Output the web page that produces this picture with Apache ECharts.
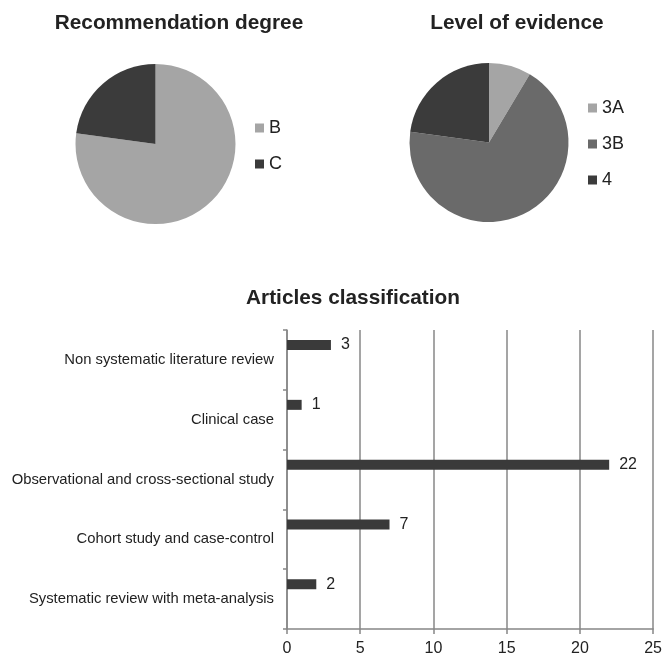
<!DOCTYPE html>
<html>
<head>
<meta charset="utf-8">
<script src="https://cdn.jsdelivr.net/npm/echarts@6/dist/echarts.min.js"></script>
<style>
  html, body { margin: 0; padding: 0; background: #fff; }
  #chart { width: 665px; height: 661px; }
</style>
</head>
<body>
<div id="chart"></div>
<script>
// Recommendation degree (pie 1)
const recommendationNames = ['B', 'C'];
const recommendationValues = [27, 8];

// Level of evidence (pie 2)
const evidenceNames = ['3A', '3B', '4'];
const evidenceValues = [3, 24, 8];

// Articles classification (horizontal bars, listed top to bottom)
const articleCategories = [
  'Non systematic literature review',
  'Clinical case',
  'Observational and cross-sectional study',
  'Cohort study and case-control',
  'Systematic review with meta-analysis'
];
const articleCounts = [3, 1, 22, 7, 2];

// Value axis ticks
const xMin = 0, xMax = 25, xStep = 5;

const FONT = 'Liberation Sans, Arial, sans-serif';
const TEXT = '#222222';
const AXIS = '#878787';

const recColors = ['#a5a5a5', '#3b3b3b'];
const evColors = ['#a5a5a5', '#6a6a6a', '#3b3b3b'];

const chart = echarts.init(document.getElementById('chart'), null, { renderer: 'canvas' });

const titleStyle = (text, x, y) => ({
  type: 'text',
  x: x, y: y,
  style: {
    text: text,
    fontFamily: FONT,
    fontWeight: 'bold',
    fontSize: 20.8,
    fill: TEXT,
    textAlign: 'center',
    textVerticalAlign: 'middle'
  }
});

chart.setOption({
  animation: false,
  backgroundColor: '#ffffff',
  graphic: [
    titleStyle('Recommendation degree', 179, 23),
    titleStyle('Level of evidence', 517, 23),
    titleStyle('Articles classification', 353, 298)
  ],
  legend: [
    {
      data: recommendationNames,
      orient: 'vertical',
      left: 250, top: 114,
      icon: 'rect', itemWidth: 9, itemHeight: 9, itemGap: 18,
      selectedMode: false,
      textStyle: { fontFamily: FONT, fontSize: 18, color: TEXT }
    },
    {
      data: evidenceNames,
      orient: 'vertical',
      left: 583, top: 94,
      icon: 'rect', itemWidth: 9, itemHeight: 9, itemGap: 18,
      selectedMode: false,
      textStyle: { fontFamily: FONT, fontSize: 18, color: TEXT }
    }
  ],
  grid: { left: 287, right: 11, top: 330, bottom: 32, containLabel: false },
  xAxis: {
    type: 'value',
    min: xMin, max: xMax, interval: xStep,
    axisLine: { show: true, lineStyle: { color: AXIS, width: 1.5 } },
    axisTick: { show: true, length: 5, lineStyle: { color: AXIS, width: 1.5 } },
    axisLabel: { fontFamily: FONT, fontSize: 16, color: TEXT, margin: 12 },
    splitLine: { show: true, lineStyle: { color: AXIS, width: 1.5 } }
  },
  yAxis: {
    type: 'category',
    inverse: true,
    data: articleCategories,
    axisLine: { show: true, lineStyle: { color: AXIS, width: 1.5 } },
    axisTick: { show: true, length: 4, alignWithLabel: false, lineStyle: { color: AXIS, width: 1.5 } },
    axisLabel: { fontFamily: FONT, fontSize: 14.8, color: TEXT, margin: 13 },
    splitLine: { show: false }
  },
  series: [
    {
      type: 'pie',
      name: 'Recommendation degree',
      center: [155.5, 144],
      radius: 80,
      startAngle: 90,
      clockwise: true,
      label: { show: false },
      labelLine: { show: false },
      emphasis: { disabled: true },
      data: recommendationNames.map((n, i) => ({
        name: n, value: recommendationValues[i], itemStyle: { color: recColors[i] }
      }))
    },
    {
      type: 'pie',
      name: 'Level of evidence',
      center: [489, 142.5],
      radius: 79.5,
      startAngle: 90,
      clockwise: true,
      label: { show: false },
      labelLine: { show: false },
      emphasis: { disabled: true },
      data: evidenceNames.map((n, i) => ({
        name: n, value: evidenceValues[i], itemStyle: { color: evColors[i] }
      }))
    },
    {
      type: 'bar',
      name: 'Articles',
      data: articleCounts,
      barWidth: 10,
      barGap: '197%',
      itemStyle: { color: '#3a3a3a' },
      label: {
        show: true, position: 'right', distance: 10,
        fontFamily: FONT, fontSize: 16, color: TEXT
      },
      emphasis: { disabled: true }
    },
    {
      // empty companion series: keeps each bar in the upper part of its band
      type: 'bar',
      name: 'spacer',
      data: articleCounts.map(() => '-'),
      barWidth: 10,
      barGap: '197%',
      silent: true
    }
  ]
});
</script>
</body>
</html>
